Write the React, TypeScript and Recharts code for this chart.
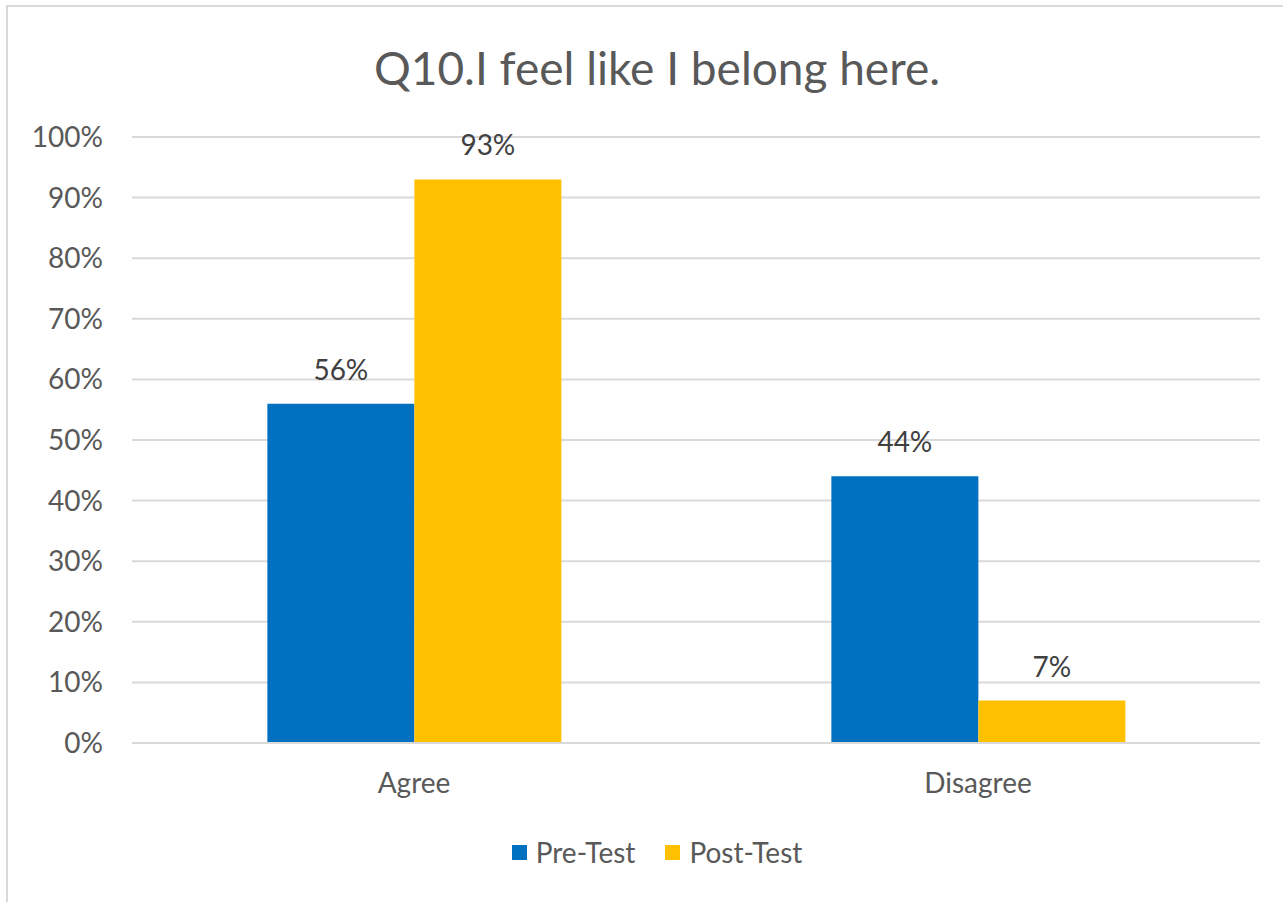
import React from 'react';
import { BarChart, Bar, XAxis, YAxis, CartesianGrid, LabelList } from 'recharts';

const categories = ['Agree', 'Disagree'];
const preTest = [56, 44];
const postTest = [93, 7];
const yTicks = [0, 10, 20, 30, 40, 50, 60, 70, 80, 90, 100];
const seriesNames = ['Pre-Test', 'Post-Test'];

const FONT = 'Lato, "Open Sans", sans-serif';
const BLUE = '#0070C0';
const GOLD = '#FFC000';
const TEXT = '#595959';
const seriesColors = [BLUE, GOLD];

const data = categories.map((c, i) => ({ name: c, pre: preTest[i], post: postTest[i] }));

const ChartLegend = () => (
  <div
    style={{
      position: 'absolute',
      left: 7,
      width: 1300,
      top: 835,
      display: 'flex',
      justifyContent: 'center',
      alignItems: 'center',
      fontFamily: FONT,
      fontSize: 28,
      color: TEXT,
    }}
  >
    {seriesNames.map((name, i) => (
      <div key={name} style={{ display: 'flex', alignItems: 'center', marginRight: i < seriesNames.length - 1 ? 30 : 0 }}>
        <span style={{ display: 'inline-block', width: 15, height: 15, background: seriesColors[i], marginRight: 9 }} />
        <span>{name}</span>
      </div>
    ))}
  </div>
);

export default function App() {
  return (
    <div style={{ position: 'absolute', left: 0, top: 0, width: 1283, height: 902, background: '#fff', overflow: 'hidden' }}>
      <div style={{ position: 'absolute', left: 7, top: 5, right: 0, height: 2, background: '#d9d9d9' }} />
      <div style={{ position: 'absolute', left: 6, top: 5, bottom: 0, width: 2, background: '#d9d9d9' }} />
      <div
        style={{
          position: 'absolute',
          left: 7,
          width: 1300,
          top: 40,
          textAlign: 'center',
          fontFamily: FONT,
          fontSize: 46,
          color: TEXT,
          lineHeight: '56px',
        }}
      >
        Q10.I feel like I belong here.
      </div>
      <div style={{ position: 'absolute', left: 0, top: 0 }}>
        <BarChart
          width={1283}
          height={902}
          data={data}
          margin={{ top: 137, right: 23, bottom: 129, left: 0 }}
          barCategoryGap="24%"
          barGap={0}
        >
          <CartesianGrid vertical={false} stroke="#d9d9d9" strokeWidth={2} />
          <XAxis
            dataKey="name"
            height={30}
            axisLine={{ stroke: '#d9d9d9', strokeWidth: 2 }}
            tickLine={false}
            tickSize={0}
            tickMargin={30}
            tick={{ fill: TEXT, fontSize: 28, fontFamily: FONT }}
          />
          <YAxis
            width={132}
            domain={[0, 100]}
            ticks={yTicks}
            interval={0}
            axisLine={false}
            tickLine={false}
            tickSize={0}
            tickMargin={29}
            tickFormatter={(v: number) => `${v}%`}
            tick={{ fill: TEXT, fontSize: 28, fontFamily: FONT }}
          />
          <Bar dataKey="pre" name={seriesNames[0]} fill={BLUE} isAnimationActive={false}>
            <LabelList
              dataKey="pre"
              position="top"
              offset={24}
              formatter={(v: any) => `${v}%`}
              style={{ fill: '#404040', fontSize: 28, fontFamily: FONT }}
            />
          </Bar>
          <Bar dataKey="post" name={seriesNames[1]} fill={GOLD} isAnimationActive={false}>
            <LabelList
              dataKey="post"
              position="top"
              offset={24}
              formatter={(v: any) => `${v}%`}
              style={{ fill: '#404040', fontSize: 28, fontFamily: FONT }}
            />
          </Bar>
        </BarChart>
      </div>
      <ChartLegend />
    </div>
  );
}
